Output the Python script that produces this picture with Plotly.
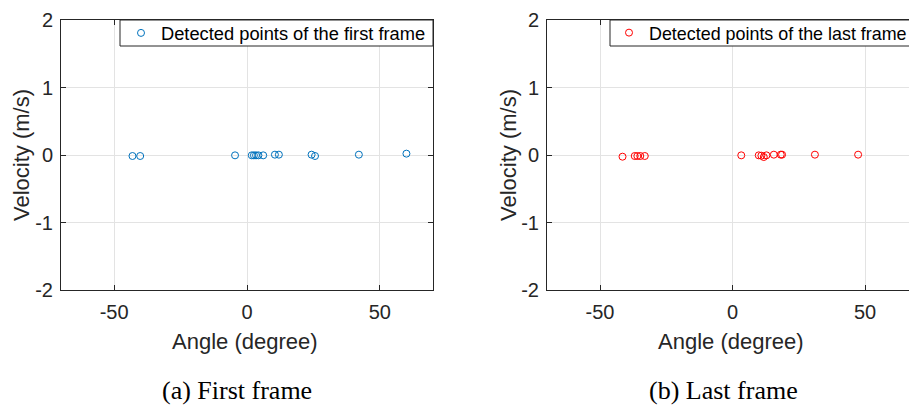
import plotly.graph_objects as go

# Detected radar points: angle (degree) and radial velocity (m/s)
first_angle = [-43.1, -40.2, -4.5, 1.8, 2.6, 3.4, 4.3, 6.1, 10.5, 12.0, 24.3, 25.6, 42.1, 60.0]
first_velocity = [-0.015, -0.015, -0.005, -0.005, -0.005, -0.005, -0.005, -0.005, 0.005, 0.005, 0.005, -0.015, 0.005, 0.02]

last_angle = [-41.5, -36.9, -35.9, -34.8, -33.1, 3.3, 9.9, 10.9, 11.8, 12.8, 15.6, 18.2, 18.7, 31.1, 47.4]
last_velocity = [-0.025, -0.015, -0.015, -0.015, -0.015, -0.005, -0.005, -0.01, -0.03, -0.005, 0.005, 0.005, 0.005, 0.005, 0.005]

x_ticks = [-50, 0, 50]
x_tick_text = ["-50", "0", "50"]
y_ticks = [-2, -1, 0, 1, 2]
y_tick_text = ["-2", "-1", "0", "1", "2"]

first_label = "Detected points of the first frame"
last_label = "Detected points of the last frame"
captions = ["(a) First frame", "(b) Last frame"]

W, H = 909, 406
AX = "#262626"
GRID = "#e3e3e3"
SANS = "Liberation Sans, Arial, Helvetica, sans-serif"
SERIF = "Liberation Serif, Times New Roman, serif"


def px_x(p):
    return p / W


def px_y(p):
    return 1 - p / H


fig = go.Figure()
fig.add_trace(go.Scatter(
    x=first_angle, y=first_velocity, mode="markers", name=first_label,
    marker=dict(symbol="circle-open", size=7, color="#0072BD", line=dict(width=1)),
    xaxis="x", yaxis="y", legend="legend",
))
fig.add_trace(go.Scatter(
    x=last_angle, y=last_velocity, mode="markers", name=last_label,
    marker=dict(symbol="circle-open", size=7, color="#FF0000", line=dict(width=1)),
    xaxis="x2", yaxis="y2", legend="legend2",
))

common_axis = dict(
    showline=True, linecolor=AX, linewidth=1,
    ticks="inside", ticklen=5, tickcolor=AX, tickwidth=1,
    showgrid=True, gridcolor=GRID, gridwidth=1, zeroline=False,
    tickfont=dict(family=SANS, size=20, color=AX),
)

ydom = [px_y(290), px_y(20)]
fig.update_layout(
    width=W, height=H,
    margin=dict(l=0, r=0, t=0, b=0, autoexpand=False),
    paper_bgcolor="white", plot_bgcolor="white",
    xaxis=dict(domain=[px_x(61), px_x(433)], range=[-70, 70], tickvals=x_ticks, ticktext=x_tick_text,
               mirror="ticks", anchor="y", ticklabelstandoff=4, **common_axis),
    yaxis=dict(domain=ydom, range=[-2, 2], tickvals=y_ticks, ticktext=y_tick_text,
               mirror="ticks", anchor="x", ticklabelstandoff=3, **common_axis),
    xaxis2=dict(domain=[px_x(547), 1.0], range=[-70, 66.6], tickvals=x_ticks, ticktext=x_tick_text,
                mirror="ticks", anchor="y2", ticklabelstandoff=4, **common_axis),
    yaxis2=dict(domain=ydom, range=[-2, 2], tickvals=y_ticks, ticktext=y_tick_text,
                mirror=False, anchor="x2", ticklabelstandoff=3, **common_axis),
    legend=dict(x=px_x(121), xanchor="left", y=px_y(33), yanchor="middle",
                bgcolor="rgba(0,0,0,0)", borderwidth=0,
                font=dict(family=SANS, size=18.3, color="black")),
    legend2=dict(x=px_x(609), xanchor="left", y=px_y(33), yanchor="middle",
                 bgcolor="rgba(0,0,0,0)", borderwidth=0,
                 font=dict(family=SANS, size=17.9, color="black")),
    showlegend=True,
)

# Legend frames (white boxes with a dark border) sitting in the top-right corners
for x0, x1 in ((120, 433), (610, 917)):
    fig.add_shape(type="rect", xref="paper", yref="paper",
                  x0=px_x(x0), x1=px_x(x1), y0=px_y(46), y1=px_y(20),
                  line=dict(color=AX, width=1), fillcolor="white", layer="above")

annotations = []
for cx in (245, 731):
    annotations.append(dict(text="Angle (degree)", x=px_x(cx), y=px_y(341), xref="paper", yref="paper",
                            showarrow=False, xanchor="center", yanchor="middle",
                            font=dict(family=SANS, size=22, color=AX)))
for cx in (22, 509):
    annotations.append(dict(text="Velocity (m/s)", x=px_x(cx), y=px_y(155), xref="paper", yref="paper",
                            showarrow=False, xanchor="center", yanchor="middle", textangle=-90,
                            font=dict(family=SANS, size=22, color=AX)))
for cap, cx in zip(captions, (237, 723)):
    annotations.append(dict(text=cap, x=px_x(cx), y=px_y(390), xref="paper", yref="paper",
                            showarrow=False, xanchor="center", yanchor="middle",
                            font=dict(family=SERIF, size=26, color="black")))
fig.update_layout(annotations=annotations)

fig.write_html("out.html")
